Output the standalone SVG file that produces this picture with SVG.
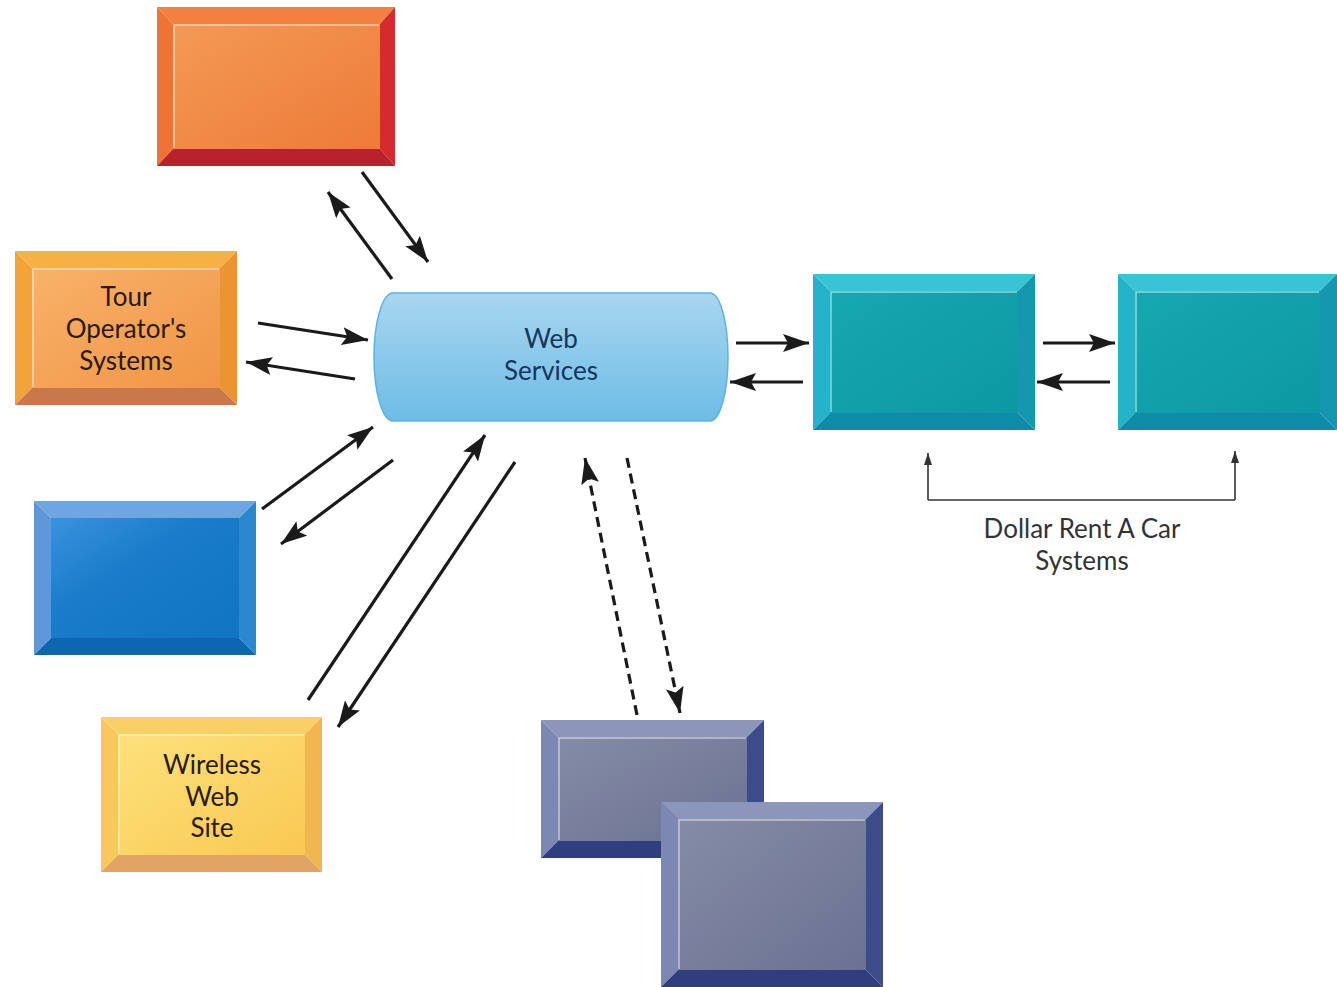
<svg xmlns="http://www.w3.org/2000/svg" width="1337" height="987" viewBox="0 0 1337 987">
<defs>
<style>
.lbl{font-family:Lato,"Noto Sans","Liberation Sans",sans-serif;font-size:26px;text-anchor:middle}
.dark{fill:#2a1a10}
.ws{fill:#16365a}
.cap{fill:#333333}
.arr{stroke:#1a1a1a;stroke-width:3.2;fill:none;marker-end:url(#ah)}
.dash{stroke:#1a1a1a;stroke-width:3.2;fill:none;stroke-dasharray:10 6;marker-end:url(#ah)}
.thin{stroke:#333;stroke-width:1.6;fill:none}
.hl{stroke:#ffffff;stroke-opacity:0.55;stroke-width:1.5;fill:none}
</style>
<marker id="ah" viewBox="0 0 26 18" refX="26" refY="9" markerWidth="26" markerHeight="18" markerUnits="userSpaceOnUse" orient="auto">
<path d="M0,0 L26,9 L0,18 L5,9 Z" fill="#1a1a1a"/>
</marker>
<marker id="sh" viewBox="0 0 12 8" refX="12" refY="4" markerWidth="12" markerHeight="8" markerUnits="userSpaceOnUse" orient="auto">
<path d="M0,0 L12,4 L0,8 Z" fill="#333"/>
</marker>
<linearGradient id="gRed" x1="0" y1="0" x2="1" y2="1"><stop offset="0" stop-color="#f39a55"/><stop offset="1" stop-color="#ee7a38"/></linearGradient>
<linearGradient id="gTour" x1="0" y1="0" x2="1" y2="1"><stop offset="0" stop-color="#f8b26a"/><stop offset="1" stop-color="#f19545"/></linearGradient>
<linearGradient id="gBlue" x1="0" y1="0" x2="1" y2="1"><stop offset="0" stop-color="#3a92dc"/><stop offset="0.4" stop-color="#1a7cca"/><stop offset="1" stop-color="#0f74c2"/></linearGradient>
<linearGradient id="gYel" x1="0" y1="0" x2="1" y2="1"><stop offset="0" stop-color="#fde27c"/><stop offset="1" stop-color="#f9c852"/></linearGradient>
<linearGradient id="gTeal" x1="0" y1="0" x2="1" y2="1"><stop offset="0" stop-color="#16a8b2"/><stop offset="1" stop-color="#0d98a2"/></linearGradient>
<linearGradient id="gGray" x1="0" y1="0" x2="1" y2="1"><stop offset="0" stop-color="#858ca6"/><stop offset="1" stop-color="#6b7192"/></linearGradient>
<linearGradient id="gWS" x1="0" y1="0" x2="0" y2="1"><stop offset="0" stop-color="#a9d6ef"/><stop offset="1" stop-color="#6cbde6"/></linearGradient>
</defs>
<rect width="1337" height="987" fill="#ffffff"/>

<g id="node-top-red">
<polygon points="157,7 395,7 380,24 173,24" fill="#f2803f"/>
<polygon points="157,7 173,24 173,149 157,166" fill="#ef7434"/>
<polygon points="395,7 395,166 380,149 380,24" fill="#d52b2c"/>
<polygon points="157,166 395,166 380,149 173,149" fill="#b9222c"/>
<rect x="173" y="24" width="207" height="125" fill="url(#gRed)"/>
<polyline class="hl" points="174,148 174,25 379,25"/>
</g>

<g id="node-tour">
<polygon points="15,251 237,251 220,268 32,268" fill="#f6b043"/>
<polygon points="15,251 32,268 32,388 15,405" fill="#f3a438"/>
<polygon points="237,251 237,405 220,388 220,268" fill="#e99532"/>
<polygon points="15,405 237,405 220,388 32,388" fill="#c8784a"/>
<rect x="32" y="268" width="188" height="120" fill="url(#gTour)"/>
<polyline class="hl" points="33,387 33,269 219,269"/>
<text class="lbl dark" x="126" y="306">Tour</text>
<text class="lbl dark" x="126" y="338">Operator's</text>
<text class="lbl dark" x="126" y="370">Systems</text>
</g>

<g id="node-blue">
<polygon points="34,501 256,501 239,518 51,518" fill="#6ea6e2"/>
<polygon points="34,501 51,518 51,638 34,655" fill="#5e97dc"/>
<polygon points="256,501 256,655 239,638 239,518" fill="#2a88cf"/>
<polygon points="34,655 256,655 239,638 51,638" fill="#0f66b0"/>
<rect x="51" y="518" width="188" height="120" fill="url(#gBlue)"/>
</g>

<g id="node-wireless">
<polygon points="101,717 322,717 305,734 118,734" fill="#f8d066"/>
<polygon points="101,717 118,734 118,855 101,872" fill="#f7c95a"/>
<polygon points="322,717 322,872 305,855 305,734" fill="#f0b650"/>
<polygon points="101,872 322,872 305,855 118,855" fill="#e2a462"/>
<rect x="118" y="734" width="187" height="121" fill="url(#gYel)"/>
<polyline class="hl" points="119,854 119,735 304,735"/>
<text class="lbl dark" x="212" y="774">Wireless</text>
<text class="lbl dark" x="212" y="806">Web</text>
<text class="lbl dark" x="212" y="837">Site</text>
</g>

<g id="node-web-services">
<path d="M393,293 L710,293 A18,64 0 0 1 710,421 L393,421 A19,64 0 0 1 393,293 Z" fill="url(#gWS)" stroke="#5cb2e2" stroke-width="1.5"/>
<text class="lbl ws" x="551" y="348">Web</text>
<text class="lbl ws" x="551" y="380">Services</text>
</g>

<g id="node-dollar-1">
<polygon points="813,274 1035,274 1018,291 830,291" fill="#38c4d4"/>
<polygon points="813,274 830,291 830,413 813,430" fill="#24b4c9"/>
<polygon points="1035,274 1035,430 1018,413 1018,291" fill="#1597b0"/>
<polygon points="813,430 1035,430 1018,413 830,413" fill="#0c8ca8"/>
<rect x="830" y="291" width="188" height="122" fill="url(#gTeal)"/>
<polyline class="hl" points="831,412 831,292 1017,292"/>
</g>

<g id="node-dollar-2">
<polygon points="1118,274 1337,274 1320,291 1135,291" fill="#38c4d4"/>
<polygon points="1118,274 1135,291 1135,413 1118,430" fill="#24b4c9"/>
<polygon points="1337,274 1337,430 1320,413 1320,291" fill="#1597b0"/>
<polygon points="1118,430 1337,430 1320,413 1135,413" fill="#0c8ca8"/>
<rect x="1135" y="291" width="185" height="122" fill="url(#gTeal)"/>
<polyline class="hl" points="1136,412 1136,292 1319,292"/>
</g>

<g id="node-gray-1">
<polygon points="541,720 764,720 747,737 558,737" fill="#8c96ba"/>
<polygon points="541,720 558,737 558,841 541,858" fill="#7c88b2"/>
<polygon points="764,720 764,858 747,841 747,737" fill="#3c4c8a"/>
<polygon points="541,858 764,858 747,841 558,841" fill="#2e3e7e"/>
<rect x="558" y="737" width="189" height="104" fill="url(#gGray)"/>
<polyline class="hl" points="559,840 559,738 746,738"/>
</g>

<g id="node-gray-2">
<polygon points="661,802 883,802 866,819 678,819" fill="#8c96ba"/>
<polygon points="661,802 678,819 678,970 661,987" fill="#7c88b2"/>
<polygon points="883,802 883,987 866,970 866,819" fill="#3c4c8a"/>
<polygon points="661,987 883,987 866,970 678,970" fill="#2e3e7e"/>
<rect x="678" y="819" width="188" height="151" fill="url(#gGray)"/>
<polyline class="hl" points="679,969 679,820 865,820"/>
</g>

<g id="connectors">
<line class="arr" x1="392" y1="279" x2="328" y2="192"/>
<line class="arr" x1="362" y1="172" x2="428" y2="262"/>
<line class="arr" x1="258" y1="323" x2="368" y2="340"/>
<line class="arr" x1="355" y1="379" x2="246" y2="362"/>
<line class="arr" x1="262" y1="509" x2="373" y2="427"/>
<line class="arr" x1="393" y1="460" x2="281" y2="544"/>
<line class="arr" x1="308" y1="700" x2="485" y2="435"/>
<line class="arr" x1="515" y1="462" x2="338" y2="727"/>
<line class="dash" x1="637" y1="715" x2="585" y2="458"/>
<line class="dash" x1="627" y1="458" x2="680" y2="713"/>
<line class="arr" x1="736" y1="343" x2="809" y2="343"/>
<line class="arr" x1="803" y1="382" x2="730" y2="382"/>
<line class="arr" x1="1043" y1="343" x2="1115" y2="343"/>
<line class="arr" x1="1110" y1="382" x2="1037" y2="382"/>
<polyline class="thin" points="928,500 1235,500"/>
<line class="thin" x1="928" y1="500" x2="928" y2="453" marker-end="url(#sh)"/>
<line class="thin" x1="1235" y1="500" x2="1235" y2="451" marker-end="url(#sh)"/>
</g>

<g id="caption">
<text class="lbl cap" x="1082" y="538">Dollar Rent A Car</text>
<text class="lbl cap" x="1082" y="570">Systems</text>
</g>
</svg>
